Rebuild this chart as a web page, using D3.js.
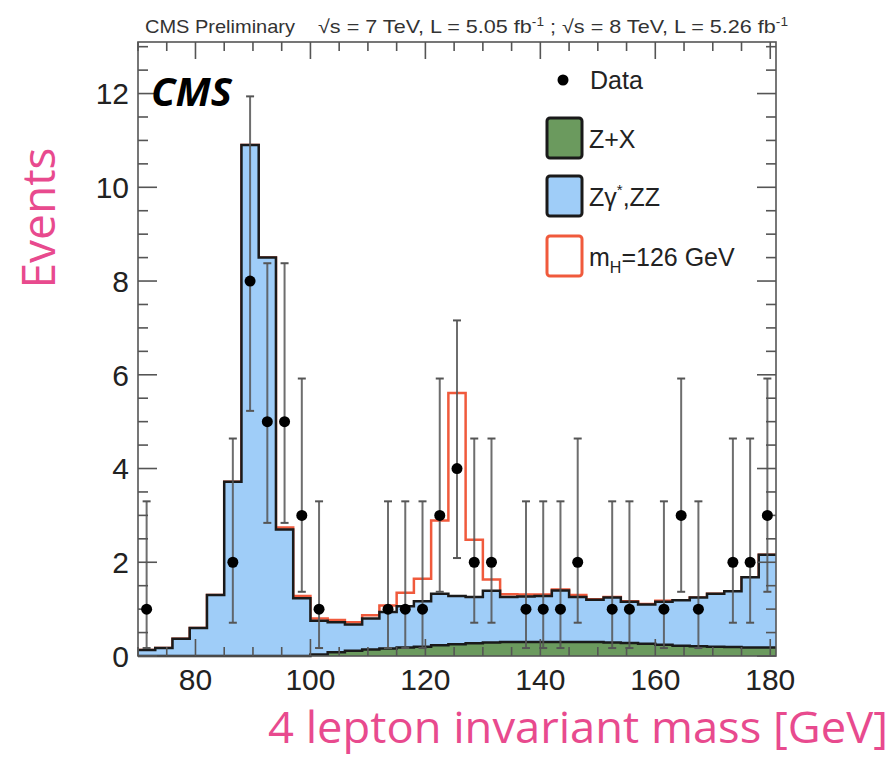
<!DOCTYPE html>
<html>
<head>
<meta charset="utf-8">
<script src="https://cdn.jsdelivr.net/npm/d3@7"></script>
<style>
  html, body { margin: 0; padding: 0; background: #fff; }
  svg { display: block; }
  .tick-label { font-family: "Liberation Sans", Arial, sans-serif; font-size: 30px; fill: #222; }
  .leg { font-family: "Liberation Sans", Arial, sans-serif; font-size: 25px; fill: #222; }
  .hdr { font-family: "Liberation Sans", Arial, sans-serif; font-size: 19px; fill: #333; }
  .title { font-family: "Open Sans", "Noto Sans", sans-serif; fill: #e84a8e; }
</style>
</head>
<body>
<svg id="chart" width="895" height="758"></svg>
<script>
// bins of 3 GeV from 70 to 181
const binEdges = d3.range(70, 182, 3);

// stacked backgrounds (per bin)
const zxValues = [0, 0, 0, 0, 0, 0, 0, 0, 0, 0, 0.03, 0.08, 0.11, 0.14, 0.16, 0.18, 0.2, 0.23, 0.25, 0.27, 0.29, 0.3, 0.3, 0.3, 0.3, 0.3, 0.3, 0.29, 0.28, 0.26, 0.24, 0.22, 0.21, 0.2, 0.19, 0.18, 0.18];
const zzValues = [0.13, 0.17, 0.37, 0.6, 1.3, 3.72, 10.9, 8.5, 2.7, 1.23, 0.72, 0.64, 0.56, 0.66, 0.78, 0.88, 0.97, 1.1, 1.03, 0.99, 1.1, 0.96, 0.97, 0.98, 1.1, 0.96, 0.9, 0.96, 0.88, 0.84, 0.92, 0.97, 1.04, 1.13, 1.19, 1.5, 1.98];
const higgsValues = [0, 0, 0, 0, 0, 0, 0, 0, 0.04, 0.05, 0.05, 0.05, 0.05, 0.07, 0.14, 0.29, 0.48, 1.56, 4.33, 1.22, 0.24, 0.06, 0.04, 0.03, 0.02, 0.04, 0.01, 0.01, 0.01, 0.01, 0.02, 0, 0, 0, 0, 0, 0];

// observed events
const dataMass = [71.5, 86.5, 89.5, 92.5, 95.5, 98.5, 101.5, 113.5, 116.5, 119.5, 122.5, 125.5, 128.5, 131.5, 137.5, 140.5, 143.5, 146.5, 152.5, 155.5, 161.5, 164.5, 167.5, 173.5, 176.5, 179.5];
const dataCounts = [1, 2, 8, 5, 5, 3, 1, 1, 1, 1, 3, 4, 2, 2, 1, 1, 1, 2, 1, 1, 1, 3, 1, 2, 2, 3];
const dataErrLow = [0.83, 1.29, 2.77, 2.16, 2.16, 1.63, 0.83, 0.83, 0.83, 0.83, 1.63, 1.91, 1.29, 1.29, 0.83, 0.83, 0.83, 1.29, 0.83, 0.83, 0.83, 1.63, 0.83, 1.29, 1.29, 1.63];
const dataErrHigh = [2.3, 2.64, 3.94, 3.38, 3.38, 2.92, 2.3, 2.3, 2.3, 2.3, 2.92, 3.16, 2.64, 2.64, 2.3, 2.3, 2.3, 2.64, 2.3, 2.3, 2.3, 2.92, 2.3, 2.64, 2.64, 2.92];

const xTicks = [80, 100, 120, 140, 160, 180];
const yTicks = [0, 2, 4, 6, 8, 10, 12];

const svg = d3.select("#chart");
const x = d3.scaleLinear().domain([70, 181]).range([138, 776]);
const y = d3.scaleLinear().domain([0, 13.1]).range([656, 42]);

// cumulative stacks
const zxTop = zxValues;
const zzTop = zzValues.map((v, i) => v + zxValues[i]);
const hTop = higgsValues.map((v, i) => v + zzTop[i]);

function stepPts(vals) {
    return binEdges.map((e, i) => ({ x: e, y: vals[Math.min(i, vals.length - 1)] }));
}
const area = d3.area().curve(d3.curveStepAfter).x(d => x(d.x)).y0(y(0)).y1(d => y(d.y));
const line = d3.line().curve(d3.curveStepAfter).x(d => x(d.x)).y(d => y(d.y));

const plot = svg.append("g");

// signal on top of the stack (outline only)
plot.append("path").attr("d", line(stepPts(hTop)))
    .attr("fill", "none").attr("stroke", "#f05a3c").attr("stroke-width", 2.5);

plot.append("path").attr("d", area(stepPts(zzTop))).attr("fill", "#9fcdf8");
plot.append("path").attr("d", line(stepPts(zzTop)))
    .attr("fill", "none").attr("stroke", "#1a1a1a").attr("stroke-width", 2.5);

plot.append("path").attr("d", area(stepPts(zxTop))).attr("fill", "#6b9a5e");
plot.append("path").attr("d", line(stepPts(zxTop)))
    .attr("fill", "none").attr("stroke", "#1a1a1a").attr("stroke-width", 2.5);

// axes frame + ticks on all sides
const frame = svg.append("g").attr("stroke", "#555").attr("stroke-width", 1.6).attr("fill", "none");
frame.append("rect").attr("x", x(70)).attr("y", y(13.1))
    .attr("width", x(181) - x(70)).attr("height", y(0) - y(13.1));

d3.range(70, 181, 5).forEach(v => {
    const len = v % 20 === 0 ? 17 : 9;
    frame.append("line").attr("x1", x(v)).attr("x2", x(v)).attr("y1", y(0)).attr("y2", y(0) - len);
    frame.append("line").attr("x1", x(v)).attr("x2", x(v)).attr("y1", y(13.1)).attr("y2", y(13.1) + len);
});
d3.range(0, 13.01, 0.5).forEach(v => {
    const len = v % 2 === 0 ? 19 : 10;
    frame.append("line").attr("x1", x(70)).attr("x2", x(70) + len).attr("y1", y(v)).attr("y2", y(v));
    frame.append("line").attr("x1", x(181)).attr("x2", x(181) - len).attr("y1", y(v)).attr("y2", y(v));
});

svg.selectAll(".xl").data(xTicks).join("text").attr("class", "tick-label")
    .attr("x", d => x(d)).attr("y", 690).attr("text-anchor", "middle").text(d => d);
svg.selectAll(".yl").data(yTicks).join("text").attr("class", "tick-label")
    .attr("x", 129).attr("y", d => y(d)).attr("dy", "0.36em").attr("text-anchor", "end").text(d => d);

// data with asymmetric errors
const pts = svg.append("g");
dataMass.forEach((m, i) => {
    const cx = x(m), lo = y(dataCounts[i] - dataErrLow[i]), hi = y(dataCounts[i] + dataErrHigh[i]);
    pts.append("line").attr("x1", cx).attr("x2", cx).attr("y1", lo).attr("y2", hi)
        .attr("stroke", "#555").attr("stroke-width", 2).attr("opacity", 0.85);
    [lo, hi].forEach(yy => pts.append("line").attr("x1", cx - 4).attr("x2", cx + 4)
        .attr("y1", yy).attr("y2", yy).attr("stroke", "#555").attr("stroke-width", 2));
    pts.append("circle").attr("cx", cx).attr("cy", y(dataCounts[i])).attr("r", 5.5).attr("fill", "#000");
});

// legend
const leg = svg.append("g");
leg.append("circle").attr("cx", 563).attr("cy", 80).attr("r", 5.5).attr("fill", "#000");
leg.append("text").attr("class", "leg").attr("x", 590).attr("y", 89).text("Data");
const legBoxes = [
    { y: 118, fill: "#6b9a5e", stroke: "#1a1a1a" },
    { y: 176, fill: "#9fcdf8", stroke: "#1a1a1a" },
    { y: 236, fill: "#fff", stroke: "#f05a3c" }
];
legBoxes.forEach(b => leg.append("rect").attr("x", 547).attr("y", b.y).attr("width", 35).attr("height", 40)
    .attr("rx", 3).attr("fill", b.fill).attr("stroke", b.stroke).attr("stroke-width", 3));
leg.append("text").attr("class", "leg").attr("x", 589).attr("y", 148).text("Z+X");
const zzt = leg.append("text").attr("class", "leg").attr("x", 589).attr("y", 206);
zzt.append("tspan").text("Zγ");
zzt.append("tspan").attr("dy", -11).attr("font-size", 15).text("*");
zzt.append("tspan").attr("dy", 11).text(",ZZ");
const mht = leg.append("text").attr("class", "leg").attr("x", 589).attr("y", 266);
mht.append("tspan").text("m");
mht.append("tspan").attr("dy", 7).attr("font-size", 16).text("H");
mht.append("tspan").attr("dy", -7).text("=126 GeV");

// header
svg.append("text").attr("class", "hdr").attr("x", 145).attr("y", 33)
    .attr("textLength", 150).attr("lengthAdjust", "spacingAndGlyphs").text("CMS Preliminary");
const h2 = svg.append("text").attr("class", "hdr").attr("x", 318).attr("y", 33)
    .attr("textLength", 470).attr("lengthAdjust", "spacingAndGlyphs");
h2.append("tspan").text("√s = 7 TeV, L = 5.05 fb");
h2.append("tspan").attr("dy", -7).attr("font-size", 12).text("-1");
h2.append("tspan").attr("dy", 7).text(" ; √s = 8 TeV, L = 5.26 fb");
h2.append("tspan").attr("dy", -7).attr("font-size", 12).text("-1");

// CMS tag
svg.append("text").attr("x", 151).attr("y", 106)
    .attr("font-family", "'Open Sans', 'Noto Sans', sans-serif").attr("font-weight", 700)
    .attr("font-style", "italic").attr("font-size", 40).attr("fill", "#000").text("CMS");

// axis titles
svg.append("text").attr("class", "title").attr("font-size", 46)
    .attr("transform", "translate(55,218) rotate(-90)").attr("text-anchor", "middle").text("Events");
svg.append("text").attr("class", "title").attr("font-size", 44).attr("x", 888).attr("y", 743)
    .attr("text-anchor", "end").attr("textLength", 620).attr("lengthAdjust", "spacingAndGlyphs")
    .text("4 lepton invariant mass [GeV]");
</script>
</body>
</html>
